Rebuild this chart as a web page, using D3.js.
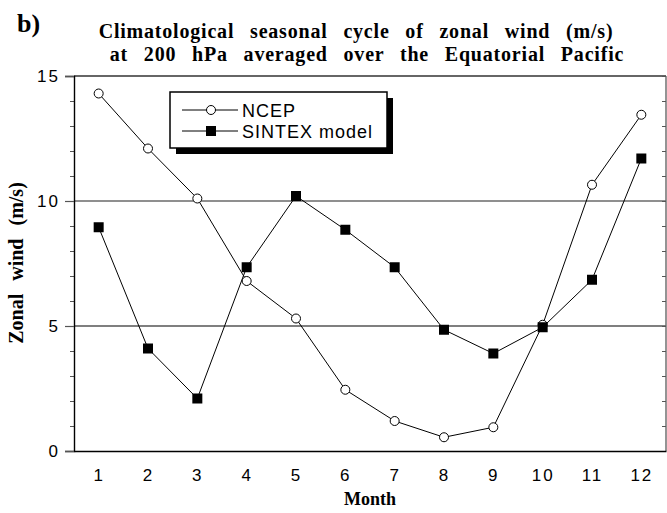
<!DOCTYPE html>
<html>
<head>
<meta charset="utf-8">
<script src="https://cdn.jsdelivr.net/npm/d3@7"></script>
<style>
  body { margin: 0; background: #fff; }
  svg { display: block; }
</style>
</head>
<body>
<script>
var width = 667,
  height = 513;

// data
var months = [1, 2, 3, 4, 5, 6, 7, 8, 9, 10, 11, 12];
var ncep = [14.3, 12.1, 10.1, 6.8, 5.3, 2.45, 1.2, 0.55, 0.95, 5.05, 10.65, 13.45];
var sintex = [8.95, 4.1, 2.1, 7.35, 10.2, 8.85, 7.35, 4.85, 3.9, 4.95, 6.85, 11.7];
var yMajor = [0, 5, 10, 15];
var yMinor = d3.range(0, 16);
var gridValues = [5, 10];

var svg = d3.select("body").append("svg")
  .attr("width", width).attr("height", height);

var x = d3.scaleLinear().domain([0.5, 12.5]).range([74, 666]);
var y = d3.scaleLinear().domain([0, 15]).range([451, 76]);

var sans = "'Liberation Sans', Arial, Helvetica, sans-serif";
var serif = "'Liberation Serif', 'Times New Roman', serif";

// grid lines at 5 and 10
svg.selectAll("line.grid")
  .data(gridValues)
  .join("line")
  .attr("class", "grid")
  .attr("x1", x.range()[0]).attr("x2", x.range()[1])
  .attr("y1", function (d) { return y(d); })
  .attr("y2", function (d) { return y(d); })
  .attr("stroke", function (d) { return d == 10 ? "#6a6a6a" : "#000"; })
  .attr("stroke-width", function (d) { return d == 10 ? 1.6 : 1.2; });

// frame: top and right
svg.append("line")
  .attr("x1", 74).attr("x2", 666).attr("y1", 76).attr("y2", 76)
  .attr("stroke", "#333").attr("stroke-width", 1.4);
svg.append("line")
  .attr("x1", 666).attr("x2", 666).attr("y1", 76).attr("y2", 451)
  .attr("stroke", "#666").attr("stroke-width", 1.4);

// left axis: minor ticks, then major ticks with labels
var leftMinor = svg.append("g").attr("transform", "translate(74,0)")
  .call(d3.axisLeft(y).tickValues(yMinor).tickSize(4).tickFormat(""));
leftMinor.select(".domain").remove();
leftMinor.selectAll("line").attr("stroke", "#555");

var leftAxis = svg.append("g").attr("transform", "translate(74,0)")
  .call(d3.axisLeft(y).tickValues(yMajor).tickSize(9).tickPadding(5).tickFormat(d3.format("d")));
leftAxis.select(".domain").attr("stroke", "#000").attr("stroke-width", 1.4);
leftAxis.selectAll("line").attr("stroke", "#555").attr("stroke-width", 1.2);
leftAxis.selectAll("text")
  .attr("font-family", sans).attr("font-size", 17)
  .attr("letter-spacing", 2).attr("fill", "#000");

// right axis: inward ticks
var rightAxis = svg.append("g").attr("transform", "translate(666,0)")
  .call(d3.axisLeft(y).tickValues(yMinor).tickSize(4).tickFormat(""));
rightAxis.select(".domain").remove();
rightAxis.selectAll("line").attr("stroke", "#555");

// bottom axis: labels only
var bottomAxis = svg.append("g").attr("transform", "translate(0,451)")
  .call(d3.axisBottom(x).tickValues(months).tickSize(0).tickPadding(18).tickFormat(d3.format("d")));
bottomAxis.select(".domain").attr("stroke", "#000").attr("stroke-width", 1.6);
bottomAxis.selectAll("text")
  .attr("font-family", sans).attr("font-size", 17)
  .attr("letter-spacing", 2).attr("fill", "#000");

// series lines
var line = d3.line()
  .x(function (d, i) { return x(months[i]); })
  .y(function (d) { return y(d); });

svg.append("path").datum(ncep)
  .attr("d", line).attr("fill", "none").attr("stroke", "#000").attr("stroke-width", 1);
svg.append("path").datum(sintex)
  .attr("d", line).attr("fill", "none").attr("stroke", "#000").attr("stroke-width", 1);

// markers
svg.selectAll("circle.ncep")
  .data(ncep)
  .join("circle")
  .attr("class", "ncep")
  .attr("cx", function (d, i) { return x(months[i]); })
  .attr("cy", function (d) { return y(d); })
  .attr("r", 4.5)
  .attr("fill", "#fff").attr("stroke", "#000").attr("stroke-width", 1);

svg.selectAll("rect.sintex")
  .data(sintex)
  .join("rect")
  .attr("class", "sintex")
  .attr("x", function (d, i) { return x(months[i]) - 5; })
  .attr("y", function (d) { return y(d) - 5; })
  .attr("width", 10).attr("height", 10)
  .attr("fill", "#000");

// legend with drop shadow
var lg = svg.append("g").attr("transform", "translate(170,92)");
lg.append("rect").attr("x", 6).attr("y", 6).attr("width", 217).attr("height", 56).attr("fill", "#000");
lg.append("rect").attr("x", 0).attr("y", 0).attr("width", 217).attr("height", 56)
  .attr("fill", "#fff").attr("stroke", "#000").attr("stroke-width", 1.5);

lg.append("line").attr("x1", 12).attr("x2", 68).attr("y1", 18).attr("y2", 18).attr("stroke", "#000");
lg.append("circle").attr("cx", 41).attr("cy", 18).attr("r", 4.5)
  .attr("fill", "#fff").attr("stroke", "#000");
lg.append("text").attr("x", 72).attr("y", 24.5).text("NCEP")
  .attr("font-family", sans).attr("font-size", 18).attr("letter-spacing", 1);

lg.append("line").attr("x1", 12).attr("x2", 68).attr("y1", 39).attr("y2", 39).attr("stroke", "#000");
lg.append("rect").attr("x", 36).attr("y", 34).attr("width", 10).attr("height", 10).attr("fill", "#000");
lg.append("text").attr("x", 72).attr("y", 45.5).text("SINTEX model")
  .attr("font-family", sans).attr("font-size", 18).attr("letter-spacing", 1);

// titles
svg.append("text").attr("x", 17).attr("y", 32).text("b)")
  .attr("font-family", serif).attr("font-weight", "bold").attr("font-size", 26);

svg.append("text").attr("x", 356).attr("y", 38).attr("text-anchor", "middle")
  .text("Climatological seasonal cycle of zonal wind (m/s)")
  .attr("font-family", serif).attr("font-weight", "bold").attr("font-size", 20)
  .attr("letter-spacing", 0.8).attr("word-spacing", 10);
svg.append("text").attr("x", 367).attr("y", 61).attr("text-anchor", "middle")
  .text("at 200 hPa averaged over the Equatorial Pacific")
  .attr("font-family", serif).attr("font-weight", "bold").attr("font-size", 20)
  .attr("letter-spacing", 0.8).attr("word-spacing", 10);

// axis titles
svg.append("text").attr("x", 370).attr("y", 505).attr("text-anchor", "middle")
  .text("Month")
  .attr("font-family", serif).attr("font-weight", "bold").attr("font-size", 18);

svg.append("text")
  .attr("transform", "translate(23,263) rotate(-90)")
  .attr("text-anchor", "middle")
  .text("Zonal wind (m/s)")
  .attr("font-family", serif).attr("font-weight", "bold").attr("font-size", 20)
  .attr("word-spacing", 8);
</script>
</body>
</html>
